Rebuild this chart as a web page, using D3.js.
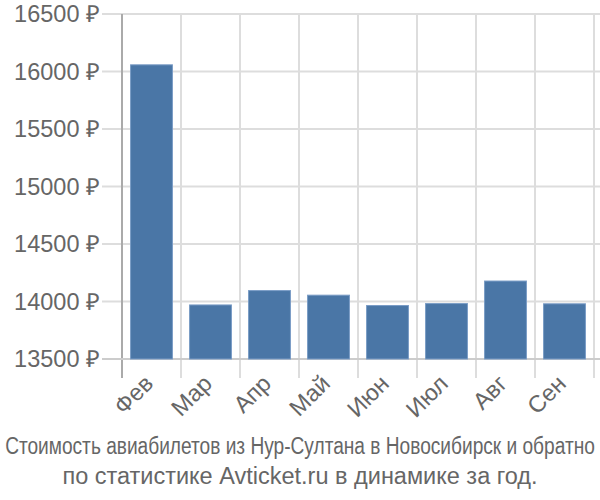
<!DOCTYPE html>
<html><head><meta charset="utf-8">
<script src="https://cdn.jsdelivr.net/npm/d3@7"></script>
<style>body{margin:0;background:#fff}svg{display:block}text{font-family:"Liberation Sans",Arial,sans-serif;fill:#666}</style>
</head><body><svg id="c" width="600" height="500"></svg>
<script>
const months = ["Фев","Мар","Апр","Май","Июн","Июл","Авг","Сен"];
const prices = [16058, 13970, 14095, 14055, 13965, 13982, 14178, 13980];
const yTicks = [13500, 14000, 14500, 15000, 15500, 16000, 16500];
const titleLines = ["Стоимость авиабилетов из Нур-Султана в Новосибирск и обратно","по статистике Avticket.ru в динамике за год."];

const svg = d3.select("#c");
const x = d3.scaleBand().domain(months).range([122, 594]).paddingInner(0.29).paddingOuter(0.145);
const xg = d3.scaleBand().domain(months).range([122, 594]);
const y = d3.scaleLinear().domain([13500, 16500]).range([359, 14]);

// horizontal grid
svg.append("g").selectAll("line").data(yTicks).join("line")
  .attr("x1", 102).attr("x2", 600).attr("y1", d => y(d)).attr("y2", d => y(d))
  .attr("stroke", "#ddd").attr("stroke-width", 2);
// vertical grid
svg.append("g").selectAll("line").data(months).join("line")
  .attr("x1", d => xg(d) + xg.step()).attr("x2", d => xg(d) + xg.step())
  .attr("y1", 14).attr("y2", 378).attr("stroke", "#ddd").attr("stroke-width", 2);
// y axis line
svg.append("line").attr("x1",122).attr("x2",122).attr("y1",14).attr("y2",378).attr("stroke","#aaa").attr("stroke-width",2);
// baseline
svg.append("line").attr("x1",102).attr("x2",600).attr("y1",y(13500)).attr("y2",y(13500)).attr("stroke","#ccc").attr("stroke-width",2);

// bars
svg.append("g").selectAll("rect").data(prices).join("rect")
  .attr("x", (d,i) => x(months[i])).attr("width", x.bandwidth())
  .attr("y", d => y(d)).attr("height", d => y(13500) - y(d))
  .attr("fill", "#4a76a6").attr("stroke", "#7a9cc6").attr("stroke-width", 1);

// y labels
svg.append("g").selectAll("text").data(yTicks).join("text")
  .attr("x", 100).attr("y", d => y(d)).attr("dy", "0.35em")
  .attr("text-anchor", "end").attr("font-size", 23.5)
  .text(d => d + " ₽");

// x labels
svg.append("g").selectAll("text").data(months).join("text")
  .attr("transform", d => `translate(${xg(d)+xg.step()/2+3},${385}) rotate(-45)`)
  .attr("text-anchor", "end").attr("font-size", 23.5)
  .text(d => d);

// title (first line horizontally condensed to fit the width)
const t1 = svg.append("text").attr("x", 0).attr("y", 0).attr("text-anchor","middle")
  .attr("font-size",23).text(titleLines[0]);
const w1 = t1.node().getComputedTextLength();
const sx = Math.min(1, 590 / w1);
t1.attr("transform", `translate(300,454) scale(${sx},1)`);
svg.append("text").attr("x", 300).attr("y", 484).attr("text-anchor","middle").attr("font-size",23.5)
  .text(titleLines[1]);
</script></body></html>
